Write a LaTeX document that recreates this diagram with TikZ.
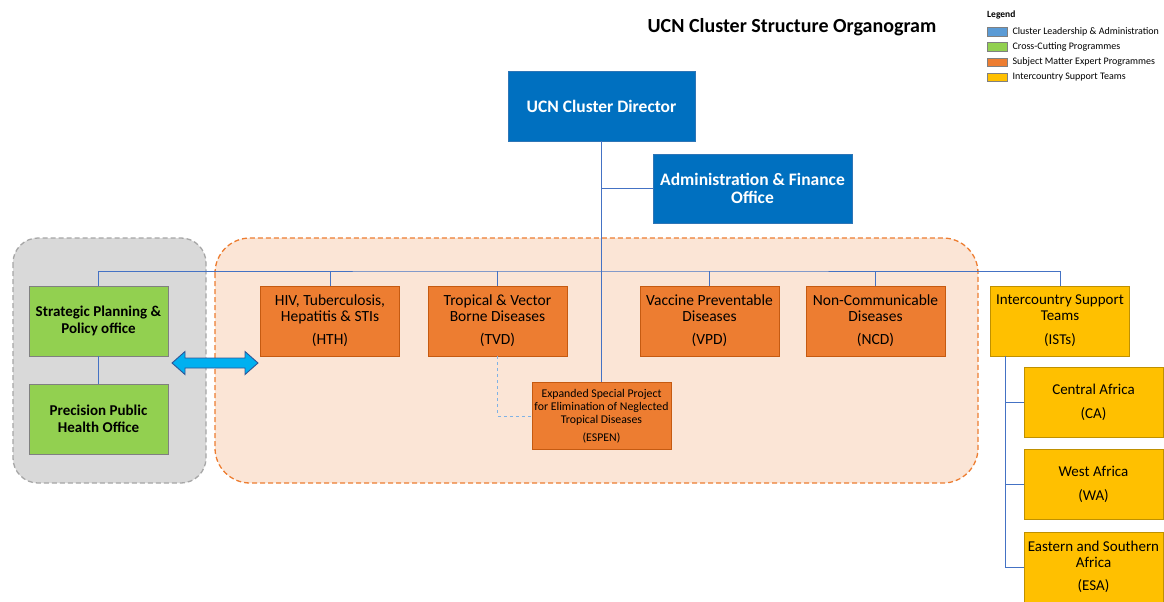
\documentclass[tikz,border=0pt]{standalone}
\usepackage{fontspec}
\setmainfont{Carlito}
\usepackage{tikz}
\usetikzlibrary{positioning}
\definecolor{ucnblue}{HTML}{0070C0}
\definecolor{ucnedge}{HTML}{2E75B6}
\definecolor{legblue}{HTML}{5B9BD5}
\definecolor{crossgreen}{HTML}{92D050}
\definecolor{crossedge}{HTML}{808080}
\definecolor{smeorange}{HTML}{ED7D31}
\definecolor{smeedge}{HTML}{C55A11}
\definecolor{istyellow}{HTML}{FFC000}
\definecolor{istedge}{HTML}{BF9000}
\definecolor{linkblue}{HTML}{4472C4}
\definecolor{dashblue}{HTML}{7FB2E5}
\definecolor{greypanel}{HTML}{D9D9D9}
\definecolor{greyedge}{HTML}{A6A6A6}
\definecolor{orangepanel}{HTML}{FBE5D6}
\definecolor{arrowblue}{HTML}{00B0F0}
\definecolor{arrowedge}{HTML}{2F5597}

\begin{document}
\begin{tikzpicture}[x=1pt, y=-1pt,
    box/.style={draw, line width=0.8pt, align=center, inner sep=2pt, minimum width=139pt, minimum height=70pt},
    lead/.style={box, fill=ucnblue, draw=ucnedge, text=white, font=\bfseries\fontsize{17.5}{18.3}\selectfont},
    cross/.style={box, fill=crossgreen, draw=crossedge, font=\bfseries\fontsize{15}{16.7}\selectfont},
    sme/.style={box, fill=smeorange, draw=smeedge, font=\fontsize{15.5}{15.6}\selectfont},
    ist/.style={box, fill=istyellow, draw=istedge, font=\fontsize{15}{15.6}\selectfont},
    link/.style={draw=linkblue, line width=1pt},
    panel/.style={line width=1.3pt, dash pattern=on 5pt off 3pt}
]
\useasboundingbox (0,0) rectangle (1164,602);

% Title and legend
\node[font=\bfseries\fontsize{20}{22}\selectfont] (title) at (792,27) {UCN Cluster Structure Organogram};
\node[anchor=west, inner sep=0pt, font=\bfseries\fontsize{9.5}{11}\selectfont] (legend) at (987,15) {Legend};
\foreach \i/\col/\txt in {0/legblue/Cluster Leadership \& Administration, 1/crossgreen/Cross-Cutting Programmes,
    2/smeorange/Subject Matter Expert Programmes, 3/istyellow/Intercountry Support Teams} {
    \node[draw=gray, fill=\col, inner sep=0pt, minimum width=20pt, minimum height=8.5pt, anchor=west] (sw\i) at (987,31.5+15.3*\i) {};
    \node[anchor=west, inner sep=0pt, font=\fontsize{10}{11}\selectfont] (lg\i) at ([xshift=5pt]sw\i.east) {\txt};
}

% Group panels
\draw[panel, fill=greypanel, draw=greyedge, rounded corners=25pt] (13,238) rectangle (206,483);
\draw[panel, fill=orangepanel, draw=smeorange, rounded corners=35pt] (215,238) rectangle (978,483);

% Leadership
\node[lead, minimum width=187pt] (director) at (601.5,106) {UCN Cluster Director};
\node[lead, minimum width=199pt, minimum height=69pt] (admin) at (752.5,188.5) {Administration \& Finance\\Office};
\coordinate (bus) at (601.5,271);

% Cross-cutting programmes
\node[cross] (spp) at (98.5,321) {Strategic Planning \&\\Policy office};
\node[cross] (pph) at (98.5,419) {Precision Public\\Health Office};

% Subject matter expert programmes
\foreach \name/\x/\txt in {hth/330/{HIV, Tuberculosis,\\Hepatitis \& STIs\\[7.5pt](HTH)},
    tvd/497.5/{Tropical \& Vector\\Borne Diseases\\[7.5pt](TVD)},
    vpd/709.5/{Vaccine Preventable\\Diseases\\[7.5pt](VPD)},
    ncd/875.5/{Non-Communicable\\Diseases\\[7.5pt](NCD)}} {
    \node[sme] (\name) at (\x,321) {\txt};
    \draw[link] (\name.north) -- (\name.north |- bus);
}
\node[sme, minimum height=67pt, font=\fontsize{11.8}{13.3}\selectfont] (espen) at (601.5,416)
    {Expanded Special Project\\for Elimination of Neglected\\Tropical Diseases\\[4.5pt](ESPEN)};

% Intercountry support teams
\node[ist] (ists) at (1060,321) {Intercountry Support\\Teams\\[8.5pt](ISTs)};
\coordinate (spine) at (1005,356);
\foreach \name/\y/\txt in {ca/402.5/{Central Africa\\[8.5pt](CA)},
    wa/484.5/{West Africa\\[8.5pt](WA)},
    esa/567/{Eastern and Southern\\Africa\\[8pt](ESA)}} {
    \node[ist] (\name) at (1093.5,\y) {\txt};
    \draw[link] (spine) |- (\name.west);
}

% Connectors
\draw[link] (spp.north) |- (bus) -| (ists.north);
\draw[link] (director.south) -- (espen.north);
\draw[link] (director.south |- admin.west) -- (admin.west);
\draw[link] (spp) -- (pph);
\draw[link, draw=dashblue, dashed] (tvd.south) |- (espen.west);

% Two-way arrow
\draw[fill=arrowblue, draw=arrowedge, line width=0.9pt] (172,363) -- (185,351.5) -- (185,358) -- (245,358)
    -- (245,351.5) -- (258,363) -- (245,374.5) -- (245,368) -- (185,368) -- (185,374.5) -- cycle;
\end{tikzpicture}
\end{document}
